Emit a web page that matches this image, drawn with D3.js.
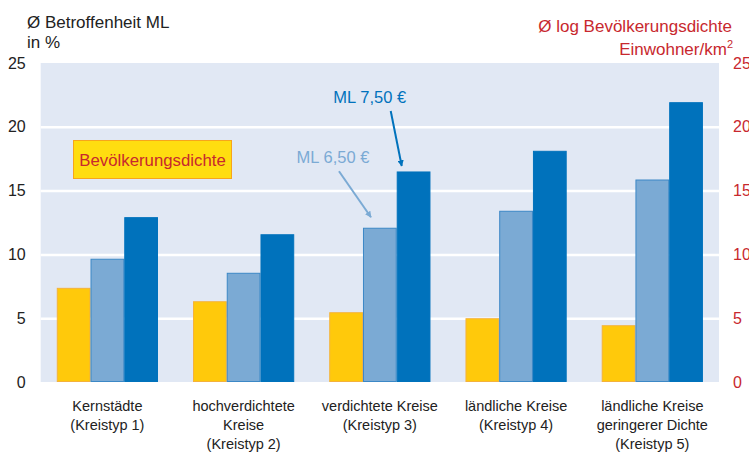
<!DOCTYPE html>
<html>
<head>
<meta charset="utf-8">
<script src="https://cdn.jsdelivr.net/npm/d3@7"></script>
<style>
  body { margin: 0; background: #fff; }
  svg text { font-family: "Liberation Sans", Arial, sans-serif; }
</style>
</head>
<body>
<svg id="chart"></svg>
<script>
// data
const categories = ["Kernstädte (Kreistyp 1)", "hochverdichtete Kreise (Kreistyp 2)", "verdichtete Kreise (Kreistyp 3)",
                    "ländliche Kreise (Kreistyp 4)", "ländliche Kreise geringerer Dichte (Kreistyp 5)"];
const categoryLines = [
    ["Kernstädte", "(Kreistyp 1)"],
    ["hochverdichtete", "Kreise", "(Kreistyp 2)"],
    ["verdichtete Kreise", "(Kreistyp 3)"],
    ["ländliche Kreise", "(Kreistyp 4)"],
    ["ländliche Kreise", "geringerer Dichte", "(Kreistyp 5)"]
];
const densityValues = [7.34, 6.29, 5.43, 4.96, 4.41];   // Ø log Bevölkerungsdichte (rechte Achse)
const ml650Values   = [9.62, 8.52, 12.05, 13.38, 15.83]; // ML 6,50 €
const ml750Values   = [12.88, 11.54, 16.46, 18.08, 21.89]; // ML 7,50 €
const seriesKeys = ["density", "ml650", "ml750"];
const yTicks = [0, 5, 10, 15, 20, 25];

const svgWidth = 749, svgHeight = 453;
const plot = {left: 40.7, right: 719, top: 63, bottom: 382};

const colors = {
    density: {fill: "#FFC90B", stroke: "#F4B23C"},
    ml650:   {fill: "#7BAAD4", stroke: "#3C88C6"},
    ml750:   {fill: "#0072BC", stroke: "#0072BC"}
};
const red = "#C8282E";

const rows = categories.map((c, i) => ({
    cat: c, density: densityValues[i], ml650: ml650Values[i], ml750: ml750Values[i]
}));

const chart = d3.select("#chart")
    .attr("width", svgWidth)
    .attr("height", svgHeight);

// scales
const x0 = d3.scaleBand().domain(categories).range([plot.left, plot.right])
    .paddingInner(0.257).paddingOuter(0.118);
const x1 = d3.scaleBand().domain(seriesKeys).range([0, x0.bandwidth()]);
const yLeft = d3.scaleLinear().domain([0, 25]).range([plot.bottom, plot.top]);
const yRight = d3.scaleLinear().domain([0, 25]).range([plot.bottom, plot.top]);

// plot background
chart.append("rect")
    .attr("x", plot.left).attr("y", plot.top)
    .attr("width", plot.right - plot.left).attr("height", plot.bottom - plot.top)
    .attr("fill", "#E1E8F4");

// grid lines
chart.append("g")
    .attr("transform", "translate(" + plot.left + ",0)")
    .call(d3.axisRight(yLeft).tickValues(yTicks.slice(1, 5)).tickSize(plot.right - plot.left).tickFormat(""))
    .call(g => g.select(".domain").remove())
    .call(g => g.selectAll("line").attr("stroke", "#fff").attr("stroke-width", 2.5));

// left axis labels
chart.append("g")
    .attr("transform", "translate(" + (plot.left - 6) + ",0)")
    .call(d3.axisLeft(yLeft).tickValues(yTicks).tickSize(0).tickPadding(9))
    .call(g => g.select(".domain").remove())
    .call(g => g.selectAll("text").attr("fill", "#222").style("font-size", "16px")
        .style("font-family", "Liberation Sans, Arial, sans-serif"));

// right axis labels
chart.append("g")
    .attr("transform", "translate(" + (plot.right + 5) + ",0)")
    .call(d3.axisRight(yRight).tickValues(yTicks).tickSize(0).tickPadding(9))
    .call(g => g.select(".domain").remove())
    .call(g => g.selectAll("text").attr("fill", red).style("font-size", "16px")
        .style("font-family", "Liberation Sans, Arial, sans-serif"));

// bars
const groups = chart.append("g").selectAll("g")
    .data(rows)
    .enter()
    .append("g")
    .attr("transform", d => "translate(" + x0(d.cat) + ",0)");

groups.selectAll("rect")
    .data(d => seriesKeys.map(k => ({key: k, value: d[k]})))
    .enter()
    .append("rect")
    .attr("x", d => x1(d.key) + 0.5)
    .attr("y", d => (d.key === "density" ? yRight(d.value) : yLeft(d.value)))
    .attr("width", x1.bandwidth() - 1)
    .attr("height", d => plot.bottom - (d.key === "density" ? yRight(d.value) : yLeft(d.value)) - 0.5)
    .attr("fill", d => colors[d.key].fill)
    .attr("stroke", d => colors[d.key].stroke)
    .attr("stroke-width", 1);

// x labels
const xLabels = chart.append("g").selectAll("text")
    .data(categories)
    .enter()
    .append("text")
    .attr("x", d => x0(d) + x0.bandwidth() / 2)
    .attr("y", 411)
    .attr("text-anchor", "middle")
    .attr("fill", "#222")
    .style("font-size", "14.5px");

xLabels.each(function(d, i) {
    const t = d3.select(this);
    categoryLines[i].forEach((line, j) => {
        t.append("tspan")
            .attr("x", x0(d) + x0.bandwidth() / 2)
            .attr("dy", j === 0 ? 0 : 19)
            .text(line);
    });
});

// axis titles
chart.append("text").attr("x", 27).attr("y", 28)
    .attr("fill", "#222").style("font-size", "17px").text("Ø Betroffenheit ML");
chart.append("text").attr("x", 27).attr("y", 48)
    .attr("fill", "#222").style("font-size", "17px").text("in %");

chart.append("text").attr("x", 732).attr("y", 32)
    .attr("text-anchor", "end").attr("fill", red).style("font-size", "17px")
    .text("Ø log Bevölkerungsdichte");
const unit = chart.append("text").attr("x", 733).attr("y", 55)
    .attr("text-anchor", "end").attr("fill", red).style("font-size", "17px");
unit.append("tspan").text("Einwohner/km");
unit.append("tspan").attr("dy", -7).style("font-size", "11px").text("2");

// legend box for density
chart.append("rect")
    .attr("x", 73.5).attr("y", 140.5).attr("width", 158).attr("height", 38)
    .attr("fill", "#FFDD10").attr("stroke", "#F7A51B").attr("stroke-width", 1);
chart.append("text")
    .attr("x", 152.5).attr("y", 166)
    .attr("text-anchor", "middle").attr("fill", red).style("font-size", "16.8px")
    .text("Bevölkerungsdichte");

// annotation arrows (attached to Kreistyp 3 bars)
const defs = chart.append("defs");
function marker(id, color) {
    defs.append("marker")
        .attr("id", id).attr("viewBox", "0 0 10 10")
        .attr("refX", 9).attr("refY", 5)
        .attr("markerWidth", 3.2).attr("markerHeight", 3.2)
        .attr("orient", "auto")
        .append("path").attr("d", "M0,0 L10,5 L0,10 z").attr("fill", color);
}
marker("arrowDark", "#0072BC");
marker("arrowLight", "#7BAAD4");

const c3 = categories[2];
const darkTipX = x0(c3) + x1("ml750") + 5, darkTipY = yLeft(ml750Values[2]) - 6;
const lightTipX = x0(c3) + x1("ml650") + 8, lightTipY = yLeft(ml650Values[2]) - 11;

chart.append("line")
    .attr("x1", darkTipX - 11).attr("y1", darkTipY - 55)
    .attr("x2", darkTipX).attr("y2", darkTipY)
    .attr("stroke", "#0072BC").attr("stroke-width", 2)
    .attr("marker-end", "url(#arrowDark)");
chart.append("text")
    .attr("x", darkTipX - 32).attr("y", darkTipY - 63)
    .attr("text-anchor", "middle").attr("fill", "#0072BC").style("font-size", "16.5px")
    .text("ML 7,50 €");

chart.append("line")
    .attr("x1", lightTipX - 32).attr("y1", lightTipY - 46)
    .attr("x2", lightTipX).attr("y2", lightTipY)
    .attr("stroke", "#7BAAD4").attr("stroke-width", 2)
    .attr("marker-end", "url(#arrowLight)");
chart.append("text")
    .attr("x", lightTipX - 38).attr("y", lightTipY - 54)
    .attr("text-anchor", "middle").attr("fill", "#7BAAD4").style("font-size", "16.5px")
    .text("ML 6,50 €");
</script>
</body>
</html>
